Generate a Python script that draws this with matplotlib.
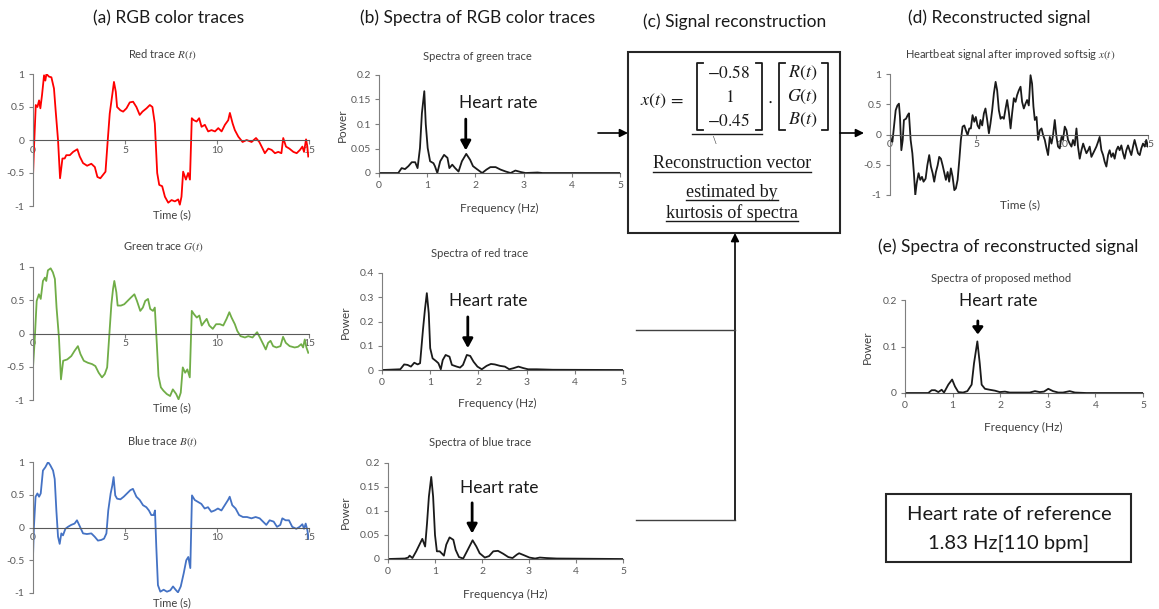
import matplotlib.pyplot as plt
from matplotlib.lines import Line2D
from matplotlib.patches import Rectangle, FancyArrowPatch
from matplotlib.ticker import FuncFormatter

W, H = 1159, 609
plt.rcParams["font.family"] = ["Lato", "DejaVu Sans"]
plt.rcParams["mathtext.fontset"] = "stix"

# RGB colour traces (time in s, normalised amplitude)
red_t = [0, 0.05, 0.15, 0.24, 0.33, 0.4, 0.49, 0.6, 0.67, 0.73, 0.87, 1.0, 1.14, 1.23,
         1.36, 1.47, 1.6, 1.72, 1.81, 2.0, 2.18, 2.41, 2.54, 2.72, 2.94, 3.17, 3.36, 3.5,
         3.66, 3.8, 3.94, 4.05, 4.17, 4.32, 4.4, 4.5, 4.57, 4.75, 4.9, 5.08, 5.26, 5.44,
         5.62, 5.8, 5.95, 6.17, 6.35, 6.49, 6.62, 6.75, 6.86, 7.02, 7.17, 7.35, 7.53, 7.71,
         7.89, 7.98, 8.07, 8.16, 8.31, 8.43, 8.53, 8.63, 8.74, 8.89, 9.03, 9.16, 9.34, 9.52,
         9.7, 9.89, 10.07, 10.25, 10.43, 10.61, 10.7, 10.85, 10.97, 11.16, 11.39, 11.61,
         11.88, 12.12, 12.3, 12.48, 12.6, 12.79, 12.97, 13.15, 13.33, 13.5, 13.6, 13.75,
         13.93, 14.15, 14.33, 14.51, 14.64, 14.73, 14.84, 14.91, 14.96]
red_v = [-0.56, -0.15, 0.53, 0.5, 0.6, 0.48, 0.68, 0.98, 0.9, 1.0, 0.96, 0.95, 0.78, 0.45,
         0.0, -0.58, -0.28, -0.28, -0.23, -0.23, -0.18, -0.14, -0.25, -0.35, -0.39, -0.36,
         -0.41, -0.56, -0.58, -0.53, -0.48, -0.05, 0.4, 0.71, 0.88, 0.73, 0.5, 0.45, 0.43,
         0.48, 0.57, 0.58, 0.5, 0.38, 0.43, 0.48, 0.53, 0.5, 0.25, -0.5, -0.68, -0.7, -0.86,
         -0.95, -0.91, -0.93, -0.9, -0.98, -0.86, -0.48, -0.6, -0.5, -0.6, 0.33, 0.3, 0.28,
         0.33, 0.2, 0.23, 0.13, 0.15, 0.13, 0.18, 0.13, 0.23, 0.3, 0.41, 0.25, 0.15, 0.05,
         -0.03, 0.0, -0.03, 0.03, -0.03, -0.13, -0.2, -0.13, -0.15, -0.2, -0.18, -0.2, 0.03,
         -0.1, -0.13, -0.18, -0.2, -0.15, -0.1, -0.18, 0.01, -0.1, -0.25]

green_t = [0, 0.09, 0.2, 0.32, 0.42, 0.54, 0.65, 0.72, 0.81, 0.96, 1.08, 1.19, 1.28, 1.41,
           1.52, 1.64, 1.86, 2.08, 2.26, 2.44, 2.58, 2.76, 2.98, 3.21, 3.39, 3.57, 3.75, 3.9,
           4.03, 4.15, 4.26, 4.35, 4.42, 4.53, 4.6, 4.78, 4.96, 5.14, 5.32, 5.51, 5.65, 5.83,
           5.97, 6.1, 6.25, 6.37, 6.52, 6.62, 6.73, 6.82, 6.95, 7.09, 7.27, 7.45, 7.6, 7.78,
           7.91, 8.03, 8.14, 8.27, 8.39, 8.52, 8.63, 8.75, 8.9, 9.04, 9.17, 9.3, 9.44, 9.58,
           9.77, 9.95, 10.16, 10.34, 10.52, 10.67, 10.79, 10.97, 11.1, 11.28, 11.52, 11.7,
           11.93, 12.18, 12.33, 12.51, 12.65, 12.78, 12.91, 13.05, 13.23, 13.45, 13.59, 13.74,
           13.95, 14.22, 14.4, 14.58, 14.68, 14.77, 14.86, 14.96]
green_v = [-0.51, -0.11, 0.49, 0.59, 0.52, 0.79, 0.84, 0.79, 0.95, 0.98, 0.92, 0.82, 0.39,
           -0.06, -0.69, -0.41, -0.39, -0.34, -0.26, -0.19, -0.31, -0.41, -0.44, -0.46, -0.49,
           -0.59, -0.66, -0.61, -0.51, -0.01, 0.44, 0.67, 0.79, 0.62, 0.42, 0.42, 0.44, 0.49,
           0.54, 0.59, 0.49, 0.34, 0.39, 0.49, 0.52, 0.37, 0.34, 0.39, -0.16, -0.64, -0.81,
           -0.86, -0.91, -0.94, -0.84, -0.91, -0.99, -0.89, -0.51, -0.59, -0.54, -0.66, 0.34,
           0.29, 0.24, 0.27, 0.12, 0.17, 0.22, 0.12, 0.07, 0.14, 0.14, 0.12, 0.22, 0.32, 0.24,
           0.14, 0.04, -0.04, -0.06, -0.04, -0.06, 0.02, -0.06, -0.16, -0.24, -0.14, -0.11,
           -0.19, -0.21, -0.19, -0.05, -0.14, -0.19, -0.21, -0.2, -0.16, -0.21, -0.09, -0.21,
           -0.29]

blue_t = [0, 0.05, 0.14, 0.24, 0.33, 0.42, 0.54, 0.67, 0.82, 0.94, 1.09, 1.18, 1.27, 1.36,
          1.45, 1.54, 1.63, 1.76, 1.9, 2.08, 2.26, 2.39, 2.54, 2.72, 2.93, 3.17, 3.35, 3.53,
          3.71, 3.86, 3.99, 4.09, 4.22, 4.31, 4.38, 4.47, 4.57, 4.75, 4.93, 5.11, 5.29, 5.43,
          5.62, 5.8, 5.98, 6.16, 6.3, 6.43, 6.56, 6.63, 6.7, 6.79, 6.92, 7.1, 7.28, 7.46, 7.61,
          7.75, 7.88, 8.03, 8.19, 8.33, 8.44, 8.55, 8.64, 8.79, 8.97, 9.15, 9.33, 9.51, 9.69,
          9.87, 10.05, 10.24, 10.42, 10.6, 10.69, 10.83, 11.01, 11.2, 11.41, 11.63, 11.87,
          12.1, 12.32, 12.5, 12.68, 12.86, 13.08, 13.26, 13.44, 13.55, 13.73, 13.91, 14.09,
          14.31, 14.49, 14.64, 14.73, 14.82, 14.91, 14.98]
blue_v = [-0.45, 0.01, 0.47, 0.52, 0.47, 0.52, 0.87, 0.92, 1.0, 0.95, 0.87, 0.74, 0.26,
          -0.14, -0.25, -0.09, -0.12, -0.02, 0.01, 0.04, 0.06, 0.11, 0.02, -0.09, -0.1, -0.09,
          -0.14, -0.2, -0.19, -0.17, -0.09, 0.26, 0.52, 0.64, 0.77, 0.49, 0.44, 0.43, 0.47,
          0.52, 0.57, 0.59, 0.47, 0.42, 0.34, 0.31, 0.26, 0.19, 0.19, 0.26, -0.29, -0.88,
          -0.98, -0.95, -0.98, -0.96, -0.9, -0.95, -0.99, -0.9, -0.7, -0.5, -0.45, -0.62, 0.49,
          0.42, 0.39, 0.36, 0.29, 0.31, 0.24, 0.26, 0.29, 0.26, 0.34, 0.42, 0.47, 0.34, 0.29,
          0.19, 0.16, 0.16, 0.14, 0.16, 0.14, 0.09, 0.04, 0.11, 0.09, 0.01, 0.04, 0.14, 0.11,
          0.11, 0.01, -0.02, 0.01, 0.05, -0.02, 0.06, -0.04, -0.17]

# reconstructed heartbeat signal x(t)
rec_t = [0, 0.06, 0.14, 0.23, 0.33, 0.43, 0.52, 0.58, 0.66, 0.74, 0.81, 0.93, 1.03, 1.1,
         1.2, 1.3, 1.39, 1.47, 1.55, 1.66, 1.76, 1.86, 1.95, 2.07, 2.17, 2.28, 2.38, 2.48,
         2.57, 2.67, 2.77, 2.86, 2.96, 3.06, 3.15, 3.25, 3.35, 3.44, 3.54, 3.64, 3.74, 3.83,
         3.93, 4.03, 4.12, 4.22, 4.32, 4.41, 4.51, 4.61, 4.7, 4.8, 4.9, 4.99, 5.09, 5.19,
         5.26, 5.36, 5.46, 5.55, 5.65, 5.75, 5.84, 5.94, 6.04, 6.14, 6.23, 6.33, 6.43, 6.52,
         6.62, 6.72, 6.81, 6.91, 7.01, 7.1, 7.2, 7.3, 7.39, 7.49, 7.59, 7.68, 7.78, 7.88,
         7.97, 8.07, 8.17, 8.26, 8.34, 8.42, 8.52, 8.61, 8.71, 8.81, 8.9, 9.0, 9.1, 9.19,
         9.29, 9.39, 9.48, 9.58, 9.68, 9.77, 9.87, 9.97, 10.06, 10.16, 10.26, 10.35, 10.45,
         10.55, 10.64, 10.74, 10.84, 10.93, 11.03, 11.13, 11.23, 11.32, 11.42, 11.52, 11.61,
         11.71, 11.81, 11.9, 12.0, 12.1, 12.19, 12.29, 12.39, 12.48, 12.58, 12.68, 12.77,
         12.87, 12.97, 13.06, 13.16, 13.26, 13.35, 13.45, 13.55, 13.64, 13.74, 13.84, 13.93,
         14.03, 14.13, 14.22, 14.32, 14.42, 14.52, 14.61, 14.71, 14.81, 14.9, 15.0]
rec_v = [-0.01, -0.09, -0.12, 0.13, 0.4, 0.48, 0.51, 0.29, -0.26, -0.09, 0.24, 0.26, 0.32,
         0.35, -0.09, -0.31, -0.64, -1.0, -0.81, -0.64, -0.75, -0.7, -0.78, -0.73, -0.51,
         -0.34, -0.53, -0.64, -0.78, -0.62, -0.51, -0.37, -0.4, -0.51, -0.62, -0.75, -0.62,
         -0.78, -0.56, -0.7, -0.92, -0.89, -0.75, -0.42, -0.09, 0.13, 0.15, 0.07, -0.01, 0.1,
         0.1, 0.32, 0.21, 0.29, 0.15, 0.1, 0.24, 0.15, 0.35, 0.43, 0.24, 0.02, 0.18, 0.4,
         0.68, 0.87, 0.73, 0.4, 0.26, 0.29, 0.26, 0.43, 0.57, 0.37, 0.1, 0.35, 0.6, 0.54,
         0.65, 0.73, 0.79, 0.54, 0.43, 0.51, 0.57, 0.48, 0.98, 0.84, 0.46, 0.24, 0.29, -0.09,
         0.07, 0.1, -0.01, -0.09, -0.23, -0.34, -0.04, -0.15, -0.01, 0.24, -0.04, -0.2,
         -0.23, -0.04, -0.09, 0.13, 0.07, -0.09, -0.15, -0.2, -0.09, -0.18, 0.1, -0.2, -0.4,
         -0.26, -0.15, -0.23, -0.31, -0.26, -0.2, -0.37, -0.31, -0.26, -0.2, -0.12, -0.04,
         -0.26, -0.34, -0.45, -0.53, -0.34, -0.26, -0.37, -0.31, -0.4, -0.26, -0.2, -0.26,
         -0.18, -0.31, -0.4, -0.26, -0.18, -0.26, -0.34, -0.2, -0.09, -0.2, -0.31, -0.34,
         -0.23, -0.15, -0.2, -0.09, -0.2]

# power spectra (frequency in Hz)
sg_f = [0, 0.4, 0.47, 0.54, 0.61, 0.68, 0.75, 0.8, 0.85, 0.89, 0.94, 0.97, 1.01, 1.06,
        1.13, 1.16, 1.21, 1.27, 1.35, 1.42, 1.46, 1.52, 1.58, 1.65, 1.72, 1.81, 1.89, 1.95,
        2.03, 2.14, 2.23, 2.31, 2.42, 2.52, 2.63, 2.73, 2.83, 2.94, 3.04, 3.29, 3.39, 5.0]
sg_p = [0, 0, 0.01, 0.008, 0.014, 0.022, 0.022, 0.01, 0.051, 0.122, 0.167, 0.1, 0.051,
        0.024, 0.02, 0.014, 0, 0.024, 0.037, 0.031, 0.01, 0.017, 0.01, 0.003, 0.024, 0.039,
        0.027, 0.014, 0.008, 0, 0.007, 0.012, 0.012, 0.007, 0.003, 0, 0.005, 0.002, 0,
        0.001, 0, 0]

sr_f = [0, 0.38, 0.46, 0.53, 0.6, 0.67, 0.74, 0.79, 0.85, 0.89, 0.93, 0.97, 1.0, 1.05,
        1.12, 1.17, 1.22, 1.26, 1.32, 1.4, 1.45, 1.55, 1.62, 1.68, 1.76, 1.83, 1.9, 1.98,
        2.07, 2.17, 2.26, 2.34, 2.45, 2.55, 2.64, 2.72, 2.83, 2.93, 3.03, 3.21, 3.55, 5.0]
sr_p = [0, 0.003, 0.023, 0.021, 0.014, 0.03, 0.023, 0.028, 0.166, 0.248, 0.317, 0.234,
        0.09, 0.048, 0.037, 0.028, 0.003, 0.041, 0.062, 0.055, 0.021, 0.014, 0.01, 0.021,
        0.062, 0.058, 0.034, 0.014, 0.003, 0.017, 0.025, 0.023, 0.017, 0.014, 0.003, 0.007,
        0.014, 0.008, 0.003, 0.003, 0.001, 0]

sb_f = [0, 0.36, 0.43, 0.46, 0.52, 0.6, 0.67, 0.73, 0.79, 0.83, 0.87, 0.92, 0.96, 1.0,
        1.04, 1.1, 1.14, 1.19, 1.24, 1.31, 1.39, 1.44, 1.51, 1.6, 1.68, 1.8, 1.88, 1.95,
        2.06, 2.15, 2.24, 2.34, 2.45, 2.56, 2.65, 2.74, 2.79, 2.89, 3.01, 3.13, 3.23, 3.37,
        3.59, 5.0]
sb_p = [0, 0.001, 0.003, 0.007, 0.002, 0.016, 0.03, 0.042, 0.026, 0.074, 0.13, 0.171,
        0.13, 0.05, 0.016, 0.016, 0.012, 0.007, 0.03, 0.045, 0.04, 0.019, 0.004, 0.001,
        0.016, 0.039, 0.026, 0.012, 0.003, 0.006, 0.016, 0.017, 0.011, 0.004, 0.002, 0.009,
        0.012, 0.008, 0.003, 0.001, 0.003, 0.002, 0.001, 0]

se_f = [0, 0.49, 0.56, 0.63, 0.7, 0.77, 0.82, 0.91, 0.99, 1.05, 1.12, 1.22, 1.31, 1.4,
        1.45, 1.52, 1.57, 1.61, 1.68, 1.78, 1.89, 1.99, 2.1, 2.2, 2.41, 2.62, 2.73, 2.83,
        2.92, 3.01, 3.11, 3.22, 3.32, 3.46, 3.57, 3.81, 5.0]
se_p = [0, 0, 0.006, 0.006, 0.002, 0.007, 0.001, 0.018, 0.029, 0.014, 0.002, 0.001, 0.004,
        0.018, 0.064, 0.111, 0.064, 0.018, 0.009, 0.007, 0.005, 0.002, 0.003, 0.001, 0.001,
        0.001, 0.004, 0.002, 0.003, 0.009, 0.004, 0.001, 0.001, 0.004, 0.001, 0, 0]

# reconstruction vector and reference heart rate
weights = ["-0.58", "1", "-0.45"]
ref_hz, ref_bpm = 1.83, 110

fig = plt.figure(figsize=(W / 100, H / 100), dpi=100)


def fx(x):
    return x / W


def fy(y):
    return 1 - y / H


def box(l, t, r, b):
    return [fx(l), fy(b), (r - l) / W, (b - t) / H]


def label(x, y, s, size=8.5, **kw):
    kw.setdefault("ha", "center")
    kw.setdefault("va", "center")
    kw.setdefault("color", "#404040")
    return fig.text(fx(x), fy(y), s, fontsize=size, **kw)


def style(ax):
    ax.spines[["top", "right"]].set_visible(False)
    ax.spines["left"].set_color("#7f7f7f")
    ax.spines["bottom"].set_color("#595959")
    ax.tick_params(labelsize=7.5, colors="#7f7f7f", labelcolor="#595959",
                   length=3, width=0.8, pad=3)
    ax.yaxis.set_major_formatter(FuncFormatter(lambda v, p: f"{v:g}"))
    ax.patch.set_alpha(0)


def trace(pos, t, v, color):
    ax = fig.add_axes(box(*pos))
    ax.plot(t, v, color=color, lw=1.3)
    ax.set_xlim(0, 15)
    ax.set_ylim(-1, 1)
    style(ax)
    ax.spines["bottom"].set_position(("data", 0))
    ax.set_xticks([0, 5, 10, 15])
    ax.set_yticks([-1, -0.5, 0, 0.5, 1])
    ax.tick_params(axis="x", pad=1)
    return ax


def spectrum(pos, f, p, ymax, ystep, hr_x, hr_text, arrow_y, head=0.55):
    ax = fig.add_axes(box(*pos))
    ax.plot(f, p, color="#1a1a1a", lw=1.3)
    ax.set_xlim(0, 5)
    ax.set_ylim(0, ymax)
    style(ax)
    ax.set_xticks(range(6))
    ax.set_yticks([i * ystep for i in range(int(round(ymax / ystep)) + 1)])
    ax.text(hr_text[0], hr_text[1], "Heart rate", fontsize=12.5, ha="center",
            va="center", color="#1a1a1a")
    ax.annotate("", xy=(hr_x, arrow_y[1]), xytext=(hr_x, arrow_y[0]),
                arrowprops=dict(arrowstyle=f"-|>,head_width=0.3,head_length={head}",
                                lw=2, color="black", shrinkA=0, shrinkB=0))
    return ax


def arrow(p0, p1):
    fig.add_artist(FancyArrowPatch((fx(p0[0]), fy(p0[1])), (fx(p1[0]), fy(p1[1])),
                                   transform=fig.transFigure, arrowstyle="-|>",
                                   mutation_scale=12, lw=1.2, color="black",
                                   shrinkA=0, shrinkB=0))


def hline(x0, x1, y, lw=1.0, color="#404040"):
    fig.add_artist(Line2D([fx(x0), fx(x1)], [fy(y), fy(y)], transform=fig.transFigure,
                          lw=lw, color=color))


# panel headings
label(169, 18, "(a) RGB color traces", 12.5, color="#1a1a1a")
label(478, 18, "(b) Spectra of RGB color traces", 12.5, color="#1a1a1a")
label(735, 22, "(c) Signal reconstruction", 12.5, color="#1a1a1a")
label(999, 18, "(d) Reconstructed signal", 12.5, color="#1a1a1a")
label(1008, 247, "(e) Spectra of reconstructed signal", 12.5, color="#1a1a1a")

# (a) colour traces
trace((33, 74, 309, 206), red_t, red_v, "#ff0000")
label(162, 55, "Red trace $R(t)$", 8)
label(172, 215, "Time (s)", 8)
trace((33, 267, 309, 400), green_t, green_v, "#70ad47")
label(163, 247, "Green trace $G(t)$", 8)
label(172, 408, "Time (s)", 8)
trace((33, 462, 309, 593), blue_t, blue_v, "#4472c4")
label(163, 442, "Blue trace $B(t)$", 8)
label(172, 603, "Time (s)", 8)

# (b) spectra of the traces
spectrum((379, 75, 620, 173), sg_f, sg_p, 0.2, 0.05, 1.8, (2.47, 0.143), (0.11, 0.046))
label(477, 56, "Spectra of green trace", 8)
label(499, 208, "Frequency (Hz)", 8.5)
label(342, 125, "Power", 8.5, rotation=90)
spectrum((382, 273, 623, 370), sr_f, sr_p, 0.4, 0.1, 1.78, (2.2, 0.285), (0.219, 0.09))
label(480, 253, "Spectra of red trace", 8)
label(497, 403, "Frequency (Hz)", 8.5)
label(345, 322, "Power", 8.5, rotation=90)
spectrum((388, 463, 623, 559), sb_f, sb_p, 0.2, 0.05, 1.79, (2.36, 0.148), (0.117, 0.053))
label(480, 443, "Spectra of blue trace", 8)
label(505, 594, "Frequencya (Hz)", 8.5)
label(345, 512, "Power", 8.5, rotation=90)

# (d) reconstructed signal
trace((890, 74, 1148, 195), rec_t, rec_v, "#1a1a1a")
label(1010, 54, "Heartbeat signal after improved softsig $x(t)$", 8)
label(1020, 205, "Time (s)", 8.5)

# (e) spectrum of the reconstructed signal
spectrum((905, 300, 1143, 393), se_f, se_p, 0.2, 0.1, 1.53, (1.95, 0.198), (0.155, 0.126),
         head=0.4)
label(1001, 278, "Spectra of proposed method", 8)
label(1023, 427, "Frequency (Hz)", 8.5)
label(867, 347, "Power", 8.5, rotation=90)

# (c) reconstruction block
fig.add_artist(Rectangle((fx(628), fy(233)), (840 - 628) / W, (233 - 52) / H,
                         transform=fig.transFigure, fill=False, lw=1.5,
                         edgecolor="#262626"))
serif = dict(fontsize=13, color="#1a1a1a", ha="center", va="center")
fig.text(fx(662), fy(101), "$x(t)\\,=$", **serif)
for y, w in zip([73, 97, 120], weights):
    fig.text(fx(729), fy(y), "$" + w + "$", fontsize=12.5, color="#1a1a1a",
             ha="center", va="center")
for y, s in zip([73, 97, 120], ["$R(t)$", "$G(t)$", "$B(t)$"]):
    fig.text(fx(803), fy(y), s, **serif)
fig.text(fx(770), fy(101), "$\\cdot$", **serif)


def bracket(x, top, bottom, side):
    d = 6 if side == "left" else -6
    fig.add_artist(Line2D([fx(x + d), fx(x), fx(x), fx(x + d)],
                          [fy(top), fy(top), fy(bottom), fy(bottom)],
                          transform=fig.transFigure, lw=1.3, color="#1a1a1a"))


bracket(697, 63, 130, "left")
bracket(762, 63, 130, "right")
bracket(779, 63, 130, "left")
bracket(828, 63, 130, "right")
hline(692, 762, 134, lw=1.0, color="#1a1a1a")
fig.text(fx(715), fy(141), "\\", fontsize=9, color="#404040", ha="center", va="center",
         family="Liberation Serif")

notes = []
for y, s in zip([164, 192, 213], ["Reconstruction vector", "estimated by",
                                  "kurtosis of spectra"]):
    notes.append(fig.text(fx(732), fy(y), s, family="Liberation Serif", **serif))

# arrows and connectors
arrow((598, 133), (628, 133))
arrow((840, 133), (864, 133))
hline(636, 735, 330)
hline(636, 735, 520)
arrow((735, 520), (735, 233))

# reference heart rate
fig.add_artist(Rectangle((fx(886), fy(562)), (1131 - 886) / W, (562 - 494) / H,
                         transform=fig.transFigure, fill=False, lw=1.5,
                         edgecolor="#262626"))
label(1009, 514, "Heart rate of reference", 14.5, color="#1a1a1a")
label(1009, 543, f"{ref_hz} Hz[{ref_bpm} bpm]", 14.5, color="#1a1a1a")

# underline the note lines in the block
fig.canvas.draw()
renderer = fig.canvas.get_renderer()
for t in notes:
    bb = t.get_window_extent(renderer)
    y = bb.y0 + 1
    fig.add_artist(Line2D([bb.x0 / W, bb.x1 / W], [y / H, y / H],
                          transform=fig.transFigure, lw=1.0, color="#1a1a1a"))

fig.savefig("out.png", dpi=100)
